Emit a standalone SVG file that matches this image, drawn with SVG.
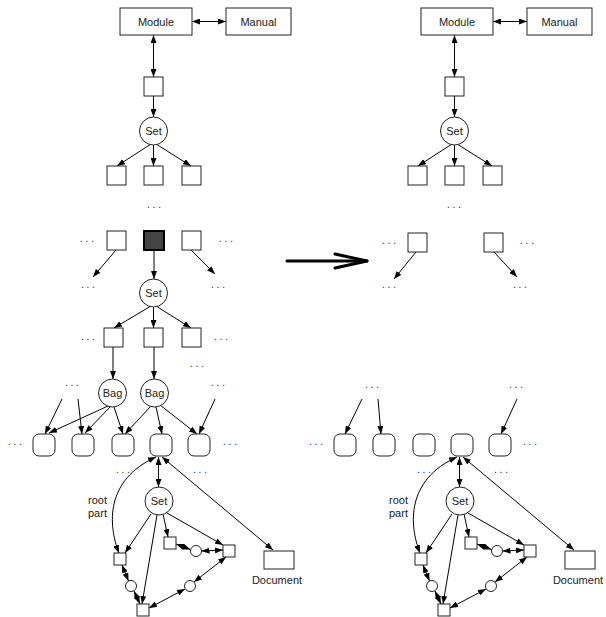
<svg xmlns="http://www.w3.org/2000/svg" width="606" height="617" viewBox="0 0 606 617">
<defs>
<marker id="ah" markerUnits="userSpaceOnUse" markerWidth="9" markerHeight="6" refX="8" refY="3" orient="auto-start-reverse">
<path d="M0,0 L8,3 L0,6 z" fill="#000"/>
</marker>
<style>
.bx{fill:#fff;stroke:#222;stroke-width:1}
.dk{fill:#444;stroke:#000;stroke-width:2}
.c{fill:#fff;stroke:#222;stroke-width:1}
.t{font-family:"Liberation Sans",Arial,sans-serif;font-size:11px;fill:#222;text-anchor:middle}
.tl{font-family:"Liberation Sans",Arial,sans-serif;font-size:11px;fill:#222}
.d{font-family:"Liberation Sans",Arial,sans-serif;font-size:10px;fill:#222;text-anchor:middle}
.a{stroke:#000;stroke-width:1;fill:none;marker-end:url(#ah)}
.b{stroke:#000;stroke-width:1;fill:none;marker-start:url(#ah);marker-end:url(#ah)}
</style>
</defs>
<rect width="606" height="617" fill="#fff"/>

<g id="connectors">
<!-- left -->
<line class="b" x1="192" y1="21.5" x2="226" y2="21.5"/>
<line class="b" x1="153.5" y1="35" x2="153.5" y2="77"/>
<line class="a" x1="153.5" y1="96" x2="153.5" y2="117"/>
<line class="a" x1="151" y1="144" x2="117" y2="166"/>
<line class="a" x1="153.5" y1="145" x2="153.5" y2="166"/>
<line class="a" x1="156" y1="144" x2="191" y2="166"/>
<line class="a" x1="116" y1="250" x2="93" y2="277"/>
<line class="a" x1="191" y1="250" x2="215" y2="274"/>
<line class="a" x1="154" y1="251" x2="154" y2="279"/>
<line class="a" x1="151" y1="306" x2="114" y2="328"/>
<line class="a" x1="153.5" y1="307" x2="153.5" y2="328"/>
<line class="a" x1="156" y1="306" x2="191" y2="328"/>
<line class="a" x1="113" y1="347" x2="113" y2="379"/>
<line class="a" x1="154" y1="347" x2="154" y2="379"/>
<line class="a" x1="62" y1="399" x2="45" y2="434"/>
<line class="a" x1="78" y1="399" x2="82" y2="434"/>
<line class="a" x1="108" y1="406" x2="49" y2="433"/>
<line class="a" x1="110" y1="407" x2="85" y2="433"/>
<line class="a" x1="114" y1="407" x2="123" y2="434"/>
<line class="a" x1="151" y1="406" x2="125" y2="434"/>
<line class="a" x1="156" y1="407" x2="162" y2="434"/>
<line class="a" x1="160" y1="405" x2="197" y2="434"/>
<line class="a" x1="215" y1="399" x2="199" y2="434"/>
<line class="b" x1="158.5" y1="457" x2="158.5" y2="487"/>
<path class="b" d="M119,553 C108,525 105,480 156,457"/>
<line class="b" x1="162" y1="457" x2="273" y2="550"/>
<line class="a" x1="151" y1="514" x2="125" y2="553"/>
<line class="a" x1="157" y1="515" x2="142" y2="604"/>
<line class="a" x1="163" y1="514" x2="168" y2="537"/>
<line class="a" x1="167" y1="513" x2="223" y2="545"/>
<line class="b" x1="176" y1="544" x2="190.5" y2="549.5"/>
<line class="b" x1="201.5" y1="551" x2="223" y2="550"/>
<line class="b" x1="122" y1="565" x2="128.5" y2="581"/>
<line class="b" x1="134" y1="591" x2="140" y2="604"/>
<line class="b" x1="226" y1="557" x2="194" y2="582"/>
<line class="b" x1="185" y1="589" x2="149" y2="608"/>
<!-- right -->
<line class="b" x1="493" y1="21.5" x2="527" y2="21.5"/>
<line class="b" x1="454.5" y1="35" x2="454.5" y2="77"/>
<line class="a" x1="454.5" y1="96" x2="454.5" y2="117"/>
<line class="a" x1="452" y1="144" x2="418" y2="166"/>
<line class="a" x1="454.5" y1="145" x2="454.5" y2="166"/>
<line class="a" x1="457" y1="144" x2="492" y2="166"/>
<line class="a" x1="416" y1="252" x2="394" y2="279"/>
<line class="a" x1="494" y1="252" x2="517" y2="277"/>
<line class="a" x1="362" y1="399" x2="345" y2="434"/>
<line class="a" x1="378" y1="399" x2="381" y2="434"/>
<line class="a" x1="517" y1="399" x2="501" y2="434"/>
<line class="b" x1="459.5" y1="457" x2="459.5" y2="487"/>
<path class="b" d="M420,553 C409,525 406,480 457,457"/>
<line class="b" x1="463" y1="457" x2="574" y2="550"/>
<line class="a" x1="452" y1="514" x2="426" y2="553"/>
<line class="a" x1="458" y1="515" x2="443" y2="604"/>
<line class="a" x1="464" y1="514" x2="469" y2="537"/>
<line class="a" x1="468" y1="513" x2="524" y2="545"/>
<line class="b" x1="477" y1="544" x2="491.5" y2="549.5"/>
<line class="b" x1="502.5" y1="551" x2="524" y2="550"/>
<line class="b" x1="423" y1="565" x2="429.5" y2="581"/>
<line class="b" x1="435" y1="591" x2="441" y2="604"/>
<line class="b" x1="527" y1="557" x2="495" y2="582"/>
<line class="b" x1="486" y1="589" x2="450" y2="608"/>
<!-- transformation arrow -->
<g id="transform-arrow" stroke="#000" stroke-width="3" fill="none" stroke-linecap="round" stroke-linejoin="round">
<line x1="287" y1="261" x2="367" y2="261"/>
<polyline points="335,254 367,261 335,268"/>
</g>
</g>

<!-- LEFT SIDE NODES -->
<g id="L-module"><rect class="bx" x="120" y="8" width="72" height="27"/><text class="t" x="156" y="25.5">Module</text></g>
<g id="L-manual"><rect class="bx" x="226" y="8" width="65" height="27"/><text class="t" x="258.5" y="25.5">Manual</text></g>
<g id="L-box1"><rect class="bx" x="144" y="77" width="19" height="19"/></g>
<g id="L-set1"><circle class="c" cx="153.5" cy="131" r="14"/><text class="t" x="153.5" y="135">Set</text></g>
<g id="L-r1a"><rect class="bx" x="107" y="166" width="19" height="19"/></g>
<g id="L-r1b"><rect class="bx" x="144" y="166" width="19" height="19"/></g>
<g id="L-r1c"><rect class="bx" x="182" y="166" width="19" height="19"/></g>
<g id="L-dots"><text class="d" x="154" y="208">. . .</text>
<text class="d" x="87" y="242">. . .</text><text class="d" x="226" y="242">. . .</text>
<text class="d" x="88" y="288">. . .</text><text class="d" x="218" y="288">. . .</text>
<text class="d" x="88" y="340">. . .</text><text class="d" x="221" y="340">. . .</text>
<text class="d" x="197" y="367">. . .</text>
<text class="d" x="72" y="386">. . .</text><text class="d" x="218" y="386">. . .</text>
<text class="d" x="15" y="445">. . .</text><text class="d" x="230" y="445">. . .</text>
<text class="d" x="123" y="473">. . .</text><text class="d" x="200" y="473">. . .</text></g>
<g id="L-r2a"><rect class="bx" x="107" y="231" width="19" height="19"/></g>
<g id="L-dark"><rect class="dk" x="144" y="231" width="20" height="19"/></g>
<g id="L-r2c"><rect class="bx" x="182" y="231" width="19" height="19"/></g>
<g id="L-set2"><circle class="c" cx="153.5" cy="293" r="14"/><text class="t" x="153.5" y="297">Set</text></g>
<g id="L-r3a"><rect class="bx" x="104" y="328" width="19" height="19"/></g>
<g id="L-r3b"><rect class="bx" x="144" y="328" width="19" height="19"/></g>
<g id="L-r3c"><rect class="bx" x="182" y="328" width="19" height="19"/></g>
<g id="L-bag1"><circle class="c" cx="112.5" cy="393" r="14"/><text class="t" x="112.5" y="397">Bag</text></g>
<g id="L-bag2"><circle class="c" cx="154.5" cy="393" r="14"/><text class="t" x="154.5" y="397">Bag</text></g>
<g id="L-rb1"><rect class="bx" x="33" y="434" width="22" height="22" rx="6"/></g>
<g id="L-rb2"><rect class="bx" x="72" y="434" width="22" height="22" rx="6"/></g>
<g id="L-rb3"><rect class="bx" x="112" y="434" width="22" height="22" rx="6"/></g>
<g id="L-rb4"><rect class="bx" x="150" y="434" width="22" height="22" rx="6"/></g>
<g id="L-rb5"><rect class="bx" x="188" y="434" width="22" height="22" rx="6"/></g>
<g id="L-set3"><circle class="c" cx="159" cy="501" r="14"/><text class="t" x="159" y="505">Set</text></g>
<g id="L-rootpart"><text class="tl" x="88" y="504">root</text><text class="tl" x="88" y="517">part</text></g>
<g id="L-sA"><rect class="bx" x="114" y="553" width="12" height="12"/></g>
<g id="L-sB"><rect class="bx" x="164" y="537" width="12" height="12"/></g>
<g id="L-sC"><rect class="bx" x="223" y="545" width="12" height="12"/></g>
<g id="L-sD"><rect class="bx" x="137" y="604" width="12" height="12"/></g>
<g id="L-cE"><circle class="c" cx="196" cy="551" r="5.5"/></g>
<g id="L-cF"><circle class="c" cx="131" cy="586" r="5.5"/></g>
<g id="L-cG"><circle class="c" cx="190" cy="586" r="5.5"/></g>
<g id="L-doc"><rect class="bx" x="264" y="551" width="30" height="18"/><text class="t" x="277" y="584">Document</text></g>

<!-- RIGHT SIDE NODES -->
<g id="R-module"><rect class="bx" x="421" y="8" width="72" height="27"/><text class="t" x="457" y="25.5">Module</text></g>
<g id="R-manual"><rect class="bx" x="527" y="8" width="65" height="27"/><text class="t" x="559.5" y="25.5">Manual</text></g>
<g id="R-box1"><rect class="bx" x="445" y="77" width="19" height="19"/></g>
<g id="R-set1"><circle class="c" cx="454.5" cy="131" r="14"/><text class="t" x="454.5" y="135">Set</text></g>
<g id="R-r1a"><rect class="bx" x="408" y="166" width="19" height="19"/></g>
<g id="R-r1b"><rect class="bx" x="445" y="166" width="19" height="19"/></g>
<g id="R-r1c"><rect class="bx" x="483" y="166" width="19" height="19"/></g>
<g id="R-dots"><text class="d" x="454" y="208">. . .</text>
<text class="d" x="389" y="244">. . .</text><text class="d" x="527" y="244">. . .</text>
<text class="d" x="389" y="288">. . .</text><text class="d" x="520" y="288">. . .</text>
<text class="d" x="372" y="388">. . .</text><text class="d" x="516" y="388">. . .</text>
<text class="d" x="316" y="445">. . .</text><text class="d" x="530" y="445">. . .</text>
<text class="d" x="424" y="473">. . .</text><text class="d" x="501" y="473">. . .</text></g>
<g id="R-r2a"><rect class="bx" x="408" y="233" width="19" height="19"/></g>
<g id="R-r2c"><rect class="bx" x="484" y="233" width="19" height="19"/></g>
<g id="R-rb1"><rect class="bx" x="334" y="434" width="22" height="22" rx="6"/></g>
<g id="R-rb2"><rect class="bx" x="373" y="434" width="22" height="22" rx="6"/></g>
<g id="R-rb3"><rect class="bx" x="413" y="434" width="22" height="22" rx="6"/></g>
<g id="R-rb4"><rect class="bx" x="451" y="434" width="22" height="22" rx="6"/></g>
<g id="R-rb5"><rect class="bx" x="489" y="434" width="22" height="22" rx="6"/></g>
<g id="R-set3"><circle class="c" cx="460" cy="501" r="14"/><text class="t" x="460" y="505">Set</text></g>
<g id="R-rootpart"><text class="tl" x="389" y="504">root</text><text class="tl" x="389" y="517">part</text></g>
<g id="R-sA"><rect class="bx" x="415" y="553" width="12" height="12"/></g>
<g id="R-sB"><rect class="bx" x="465" y="537" width="12" height="12"/></g>
<g id="R-sC"><rect class="bx" x="524" y="545" width="12" height="12"/></g>
<g id="R-sD"><rect class="bx" x="438" y="604" width="12" height="12"/></g>
<g id="R-cE"><circle class="c" cx="497" cy="551" r="5.5"/></g>
<g id="R-cF"><circle class="c" cx="432" cy="586" r="5.5"/></g>
<g id="R-cG"><circle class="c" cx="491" cy="586" r="5.5"/></g>
<g id="R-doc"><rect class="bx" x="565" y="551" width="30" height="18"/><text class="t" x="578" y="584">Document</text></g>
</svg>
